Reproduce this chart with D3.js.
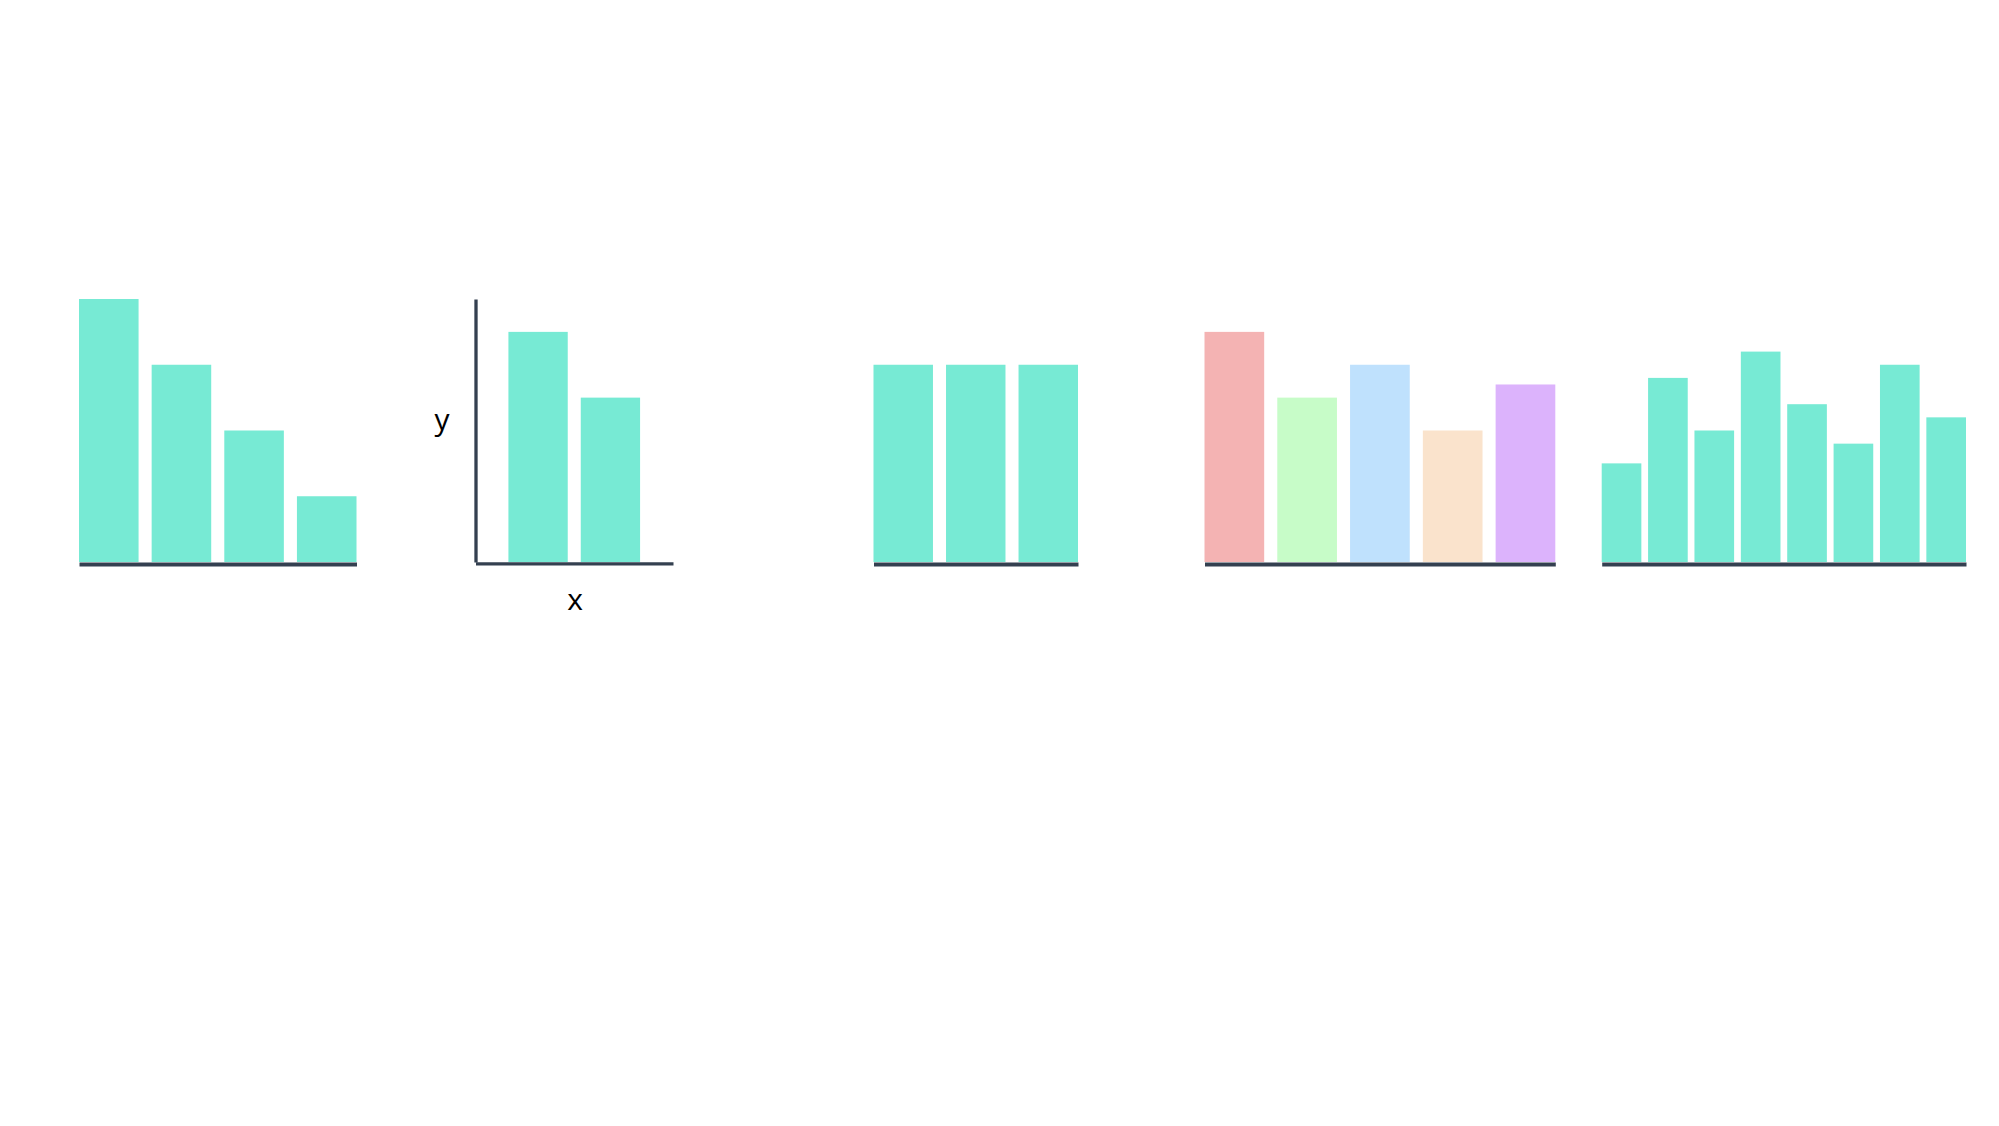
<!DOCTYPE html>
<html>
<head>
<meta charset="utf-8">
<script src="https://cdn.jsdelivr.net/npm/d3@7"></script>
<style>
  html, body { margin: 0; padding: 0; background: #fff; }
  svg { display: block; }
  .axis-label { font-family: "Open Sans", sans-serif; font-size: 30px; fill: #000; }
</style>
</head>
<body>
<svg width="1999" height="1126"></svg>
<script>
// values for each small panel, left to right
var descendingValues = [4, 3, 2, 1];
var labelledValues = [3.5, 2.5];
var equalValues = [3, 3, 3];
var colouredValues = [3.5, 2.5, 3, 2, 2.7];
var colouredFills = ['#f4b3b3', '#c7fcc8', '#bfe1fd', '#fae3cc', '#dcb3fc'];
var mixedValues = [1.5, 2.8, 2, 3.2, 2.4, 1.8, 3, 2.2];

var barColor = '#77ead4';
var axisColor = '#344050';

var svg = d3.select('svg');

// shared vertical scale
var yScale = d3.scaleLinear()
    .domain([0, 4])
    .range([562, 299]);

// draws one panel of bars with a bottom axis line
function drawPanel(values, x0, x1, opts) {
    opts = opts || {};
    var g = svg.append('g');

    var xScale = d3.scaleBand()
        .domain(d3.range(values.length))
        .range([x0, x1])
        .paddingInner(opts.inner || 0.18)
        .paddingOuter(opts.outer || 0);

    var drawAxes = function() {
        var bottom = g.append('g')
            .attr('transform', 'translate(0,' + (opts.axisY || 564) + ')')
            .call(d3.axisBottom(xScale).tickValues([]).tickSizeOuter(0));
        bottom.select('.domain')
            .attr('stroke', axisColor)
            .attr('stroke-width', opts.axisWidth || 4);

        if (opts.leftAxis) {
            var left = g.append('g')
                .attr('transform', 'translate(' + x0 + ',0)')
                .call(d3.axisLeft(yScale).tickValues([]).tickSizeOuter(0));
            left.select('.domain')
                .attr('stroke', axisColor)
                .attr('stroke-width', opts.axisWidth || 4);
        }
    };

    if (!opts.barsOnTop) drawAxes();

    g.selectAll('.bar')
        .data(values)
        .enter()
        .append('rect')
        .attr('class', 'bar')
        .attr('x', function(d, i) { return xScale(i); })
        .attr('width', xScale.bandwidth())
        .attr('y', function(d) { return yScale(d); })
        .attr('height', function(d) { return yScale(0) - yScale(d); })
        .attr('fill', function(d, i) { return opts.fills ? opts.fills[i] : barColor; });

    if (opts.barsOnTop) drawAxes();

    return g;
}

drawPanel(descendingValues, 79, 356.5);

var labelled = drawPanel(labelledValues, 475.5, 673, {
    outer: 0.455, leftAxis: true, axisWidth: 3.3, axisY: 563.3
});
// bars sit above the axis lines in this panel
labelled.selectAll('.bar').raise();

labelled.append('text')
    .attr('class', 'axis-label')
    .attr('x', 442)
    .attr('y', 430)
    .attr('text-anchor', 'middle')
    .text('y');

labelled.append('text')
    .attr('class', 'axis-label')
    .attr('x', 575)
    .attr('y', 610)
    .attr('text-anchor', 'middle')
    .text('x');

drawPanel(equalValues, 873.5, 1078);
drawPanel(colouredValues, 1204.5, 1555.3, { fills: colouredFills });
drawPanel(mixedValues, 1601.7, 1966, { inner: 0.145 });
</script>
</body>
</html>
